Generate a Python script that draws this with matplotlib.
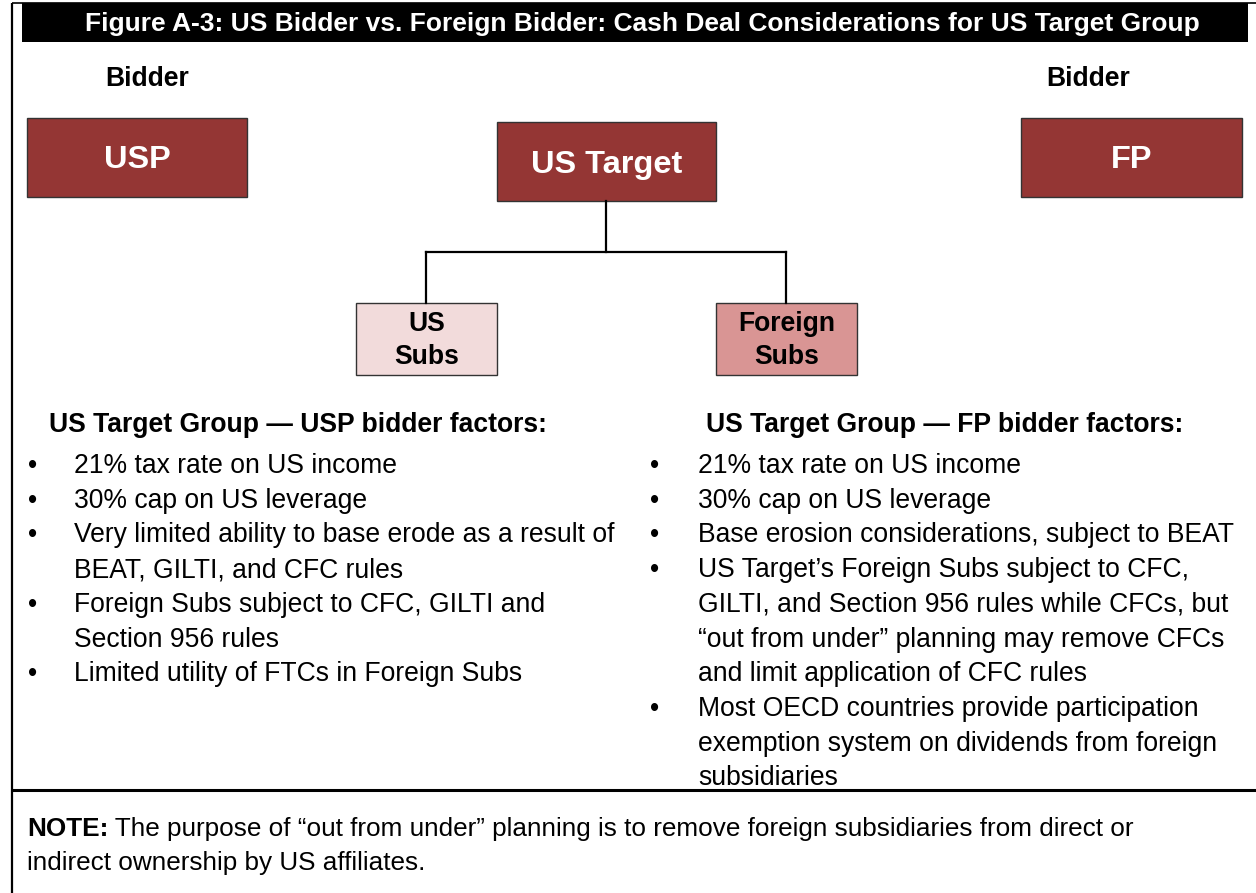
import matplotlib
matplotlib.use('Agg')
import matplotlib.pyplot as plt
from matplotlib.patches import Rectangle

plt.rcParams['font.family'] = ['Liberation Sans', 'DejaVu Sans']

# ---------------- content ----------------
title = "Figure A-3: US Bidder vs. Foreign Bidder: Cash Deal Considerations for US Target Group"
bidder_label = "Bidder"
top_entities = ["USP", "US Target", "FP"]
sub_entities = ["US\nSubs", "Foreign\nSubs"]
left_heading = "US Target Group \u2014 USP bidder factors:"
right_heading = "US Target Group \u2014 FP bidder factors:"
left_bullets = [
    ["21% tax rate on US income"],
    ["30% cap on US leverage"],
    ["Very limited ability to base erode as a result of", "BEAT, GILTI, and CFC rules"],
    ["Foreign Subs subject to CFC, GILTI and", "Section 956 rules"],
    ["Limited utility of FTCs in Foreign Subs"],
]
right_bullets = [
    ["21% tax rate on US income"],
    ["30% cap on US leverage"],
    ["Base erosion considerations, subject to BEAT"],
    ["US Target\u2019s Foreign Subs subject to CFC,",
     "GILTI, and Section 956 rules while CFCs, but",
     "\u201cout from under\u201d planning may remove CFCs",
     "and limit application of CFC rules"],
    ["Most OECD countries provide participation",
     "exemption system on dividends from foreign",
     "subsidiaries"],
]
note_bold = "NOTE:"
note_lines = [" The purpose of \u201cout from under\u201d planning is to remove foreign subsidiaries from direct or",
              "indirect ownership by US affiliates."]

# ---------------- styles ----------------
DARK = "#943634"
LIGHT = "#F2DBDB"
MID = "#D99594"
EDGE = "#333333"

W, H = 1256, 893
fig = plt.figure(figsize=(W / 100, H / 100), dpi=100)
ax = fig.add_axes([0, 0, 1, 1])
ax.set_xlim(0, W)
ax.set_ylim(H, 0)
ax.axis('off')

BODY = 19.1
NOTE = 18.85
DY = 2  # visual centring offset

# frame
ax.plot([12, 12], [3, H], color='black', lw=1.6, solid_capstyle='butt')
ax.plot([12, W], [3, 3], color='black', lw=1.2, solid_capstyle='butt')
ax.plot([12, W], [790, 790], color='black', lw=2.2, solid_capstyle='butt')

# title bar
ax.add_patch(Rectangle((22, 3), 1226, 39, facecolor='black', edgecolor='none'))
ax.text(642, 23 + 1, title, color='white', fontsize=19.0, fontweight='bold',
        ha='center', va='center')

# bidder labels
ax.text(147, 77 + DY, bidder_label, fontsize=BODY, fontweight='bold', ha='center', va='center')
ax.text(1088, 77 + DY, bidder_label, fontsize=BODY, fontweight='bold', ha='center', va='center')

# top boxes
top_boxes = [(27, 118, 220, 79), (497, 122, 219, 79), (1021, 118, 221, 79)]
for (x, y, w, h), lab in zip(top_boxes, top_entities):
    ax.add_patch(Rectangle((x, y), w, h, facecolor=DARK, edgecolor=EDGE, lw=1.0))
    ax.text(x + w / 2, y + h / 2 + 1 + DY, lab, color='white', fontsize=23.4,
            fontweight='bold', ha='center', va='center')

# connectors
ax.plot([606, 606], [201, 252], color='black', lw=1.6)
ax.plot([426, 786], [252, 252], color='black', lw=1.6, solid_capstyle='projecting')
ax.plot([426, 426], [252, 303], color='black', lw=1.6)
ax.plot([786, 786], [252, 303], color='black', lw=1.6)

# sub boxes
sub_boxes = [(356, 303, 141, 72), (716, 303, 141, 72)]
for (x, y, w, h), lab, fc in zip(sub_boxes, sub_entities, [LIGHT, MID]):
    ax.add_patch(Rectangle((x, y), w, h, facecolor=fc, edgecolor=EDGE, lw=1.0))
    l1, l2 = lab.split("\n")
    ax.text(x + w / 2, 322 + DY, l1, fontsize=BODY, fontweight='bold', ha='center', va='center')
    ax.text(x + w / 2, 355 + DY, l2, fontsize=BODY, fontweight='bold', ha='center', va='center')

# headings
ax.text(49, 423 + DY, left_heading, fontsize=BODY, fontweight='bold', ha='left', va='center')
ax.text(706, 423 + DY, right_heading, fontsize=BODY, fontweight='bold', ha='left', va='center')

# bullets
LINE = 34.7
def draw_bullets(bullets, x_dot, x_text, y0):
    y = y0
    for item in bullets:
        ax.text(x_dot, y, "\u2022", fontsize=BODY, ha='center', va='center')
        for line in item:
            ax.text(x_text, y, line, fontsize=BODY, ha='left', va='center')
            y += LINE

draw_bullets(left_bullets, 33, 74, 464 + DY)
draw_bullets(right_bullets, 655, 698, 464 + DY)

# note
t = ax.text(27, 827 + DY, note_bold, fontsize=NOTE, fontweight='bold', ha='left', va='center')
ax.annotate(note_lines[0], xy=(1, 0), xycoords=t, fontsize=NOTE, ha='left', va='bottom')
ax.text(27, 861 + DY, note_lines[1], fontsize=NOTE, ha='left', va='center')

fig.savefig('out.png', dpi=100)
